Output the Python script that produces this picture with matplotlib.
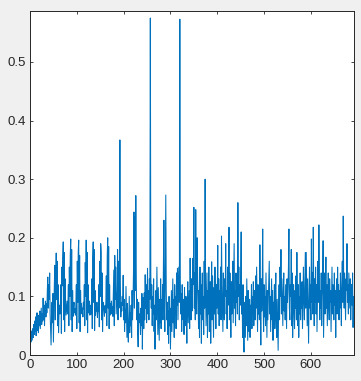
import numpy as np
import matplotlib
matplotlib.use("Agg")
import matplotlib.pyplot as plt

# valores leidos a ojo de la figura (una muestra por indice)
signal = [
    .012, .030, .022, .041, .025, .038, .045, .030, .052, .035,
    .058, .040, .065, .033, .048, .072, .042, .060, .038, .068,
    .050, .075, .045, .062, .080, .052, .070, .058, .097, .060,
    .085, .050, .078, .092, .065, .088, .072, .110, .133, .080,
    .120, .095, .140, .070, .045, .017, .060, .090, .055, .105,
    .022, .075, .120, .153, .060, .130, .174, .095, .160, .050,
    .120, .038, .072, .085, .070, .090, .120, .037, .150, .118,
    .165, .193, .060, .175, .040, .130, .088, .068, .080, .092,
    .070, .085, .120, .050, .150, .100, .170, .198, .060, .180,
    .040, .110, .066, .082, .090, .072, .079, .068, .086, .120,
    .045, .160, .090, .175, .196, .055, .170, .040, .110, .070,
    .088, .074, .080, .065, .090, .078, .120, .050, .158, .100,
    .196, .060, .175, .038, .120, .072, .080, .092, .068, .078,
    .085, .070, .130, .045, .165, .193, .090, .180, .042, .110,
    .068, .086, .075, .090, .064, .080, .074, .120, .048, .160,
    .100, .190, .175, .060, .140, .040, .090, .088, .076, .066,
    .084, .072, .090, .135, .050, .170, .200, .080, .185, .045,
    .120, .068, .088, .075, .092, .070, .082, .066, .110, .145,
    .050, .170, .095, .150, .070, .088, .110, .180, .060, .160,
    .080, .140, .367, .120, .065, .090, .075, .100, .085, .136,
    .060, .095, .040, .078, .055, .117, .070, .030, .088, .045,
    .022, .065, .100, .038, .072, .050, .085, .030, .110, .060,
    .090, .140, .244, .080, .235, .110, .272, .130, .060, .095,
    .040, .014, .090, .055, .070, .060, .035, .080, .050, .105,
    .010, .075, .098, .045, .106, .060, .137, .080, .120, .055,
    .090, .148, .070, .110, .060, .130, .095, .575, .140, .080,
    .120, .050, .100, .070, .130, .040, .085, .010, .075, .110,
    .060, .150, .090, .035, .115, .070, .025, .095, .055, .130,
    .045, .094, .070, .120, .060, .160, .230, .085, .040, .150,
    .273, .110, .060, .090, .035, .075, .020, .100, .050, .080,
    .010, .065, .110, .040, .085, .130, .055, .095, .030, .120,
    .070, .100, .045, .140, .085, .148, .060, .110, .150, .090,
    .573, .130, .070, .105, .040, .120, .080, .060, .095, .035,
    .115, .070, .050, .100, .065, .020, .090, .125, .055, .080,
    .110, .045, .165, .090, .060, .130, .075, .100, .165, .120,
    .252, .080, .140, .060, .248, .100, .070, .200, .130, .095,
    .045, .110, .030, .150, .070, .120, .020, .090, .140, .060,
    .100, .035, .160, .080, .300, .120, .050, .095, .140, .030,
    .110, .070, .150, .040, .090, .125, .020, .100, .159, .060,
    .135, .080, .030, .115, .070, .150, .090, .045, .120, .080,
    .100, .187, .070, .130, .050, .110, .085, .150, .060, .203,
    .120, .075, .040, .140, .090, .060, .130, .100, .190, .070,
    .110, .045, .150, .085, .120, .218, .060, .140, .095, .030,
    .125, .070, .100, .160, .055, .130, .190, .080, .110, .050,
    .140, .090, .120, .070, .260, .100, .150, .060, .120, .085,
    .140, .210, .070, .110, .030, .120, .045, .005, .090, .060,
    .030, .100, .050, .130, .080, .025, .110, .065, .040, .095,
    .030, .085, .060, .120, .045, .100, .070, .125, .050, .090,
    .110, .060, .135, .080, .150, .095, .040, .120, .070, .105,
    .060, .188, .090, .017, .130, .075, .110, .215, .080, .040,
    .120, .065, .100, .050, .140, .080, .030, .110, .060, .095,
    .125, .160, .070, .100, .040, .085, .130, .060, .110, .025,
    .090, .070, .120, .045, .100, .140, .065, .030, .095, .055,
    .008, .080, .120, .060, .150, .100, .180, .070, .130, .090,
    .050, .110, .140, .075, .100, .060, .120, .085, .045, .130,
    .090, .110, .150, .215, .080, .060, .120, .100, .180, .050,
    .140, .030, .090, .120, .070, .045, .110, .080, .135, .060,
    .175, .090, .050, .120, .030, .100, .070, .140, .060, .110,
    .080, .125, .045, .100, .150, .090, .060, .120, .175, .080,
    .175, .110, .050, .130, .070, .020, .095, .150, .080, .120,
    .060, .198, .090, .140, .070, .218, .110, .050, .130, .090,
    .150, .070, .120, .040, .100, .160, .090, .222, .130, .060,
    .110, .080, .140, .050, .100, .120, .195, .030, .090, .140,
    .070, .110, .167, .080, .120, .050, .100, .140, .085, .060,
    .130, .090, .110, .040, .100, .150, .070, .120, .095, .060,
    .140, .085, .110, .030, .100, .130, .070, .150, .090, .120,
    .060, .110, .080, .140, .100, .050, .120, .160, .090, .237,
    .120, .080, .140, .100, .060, .130, .110, .190, .090, .120,
    .070, .140, .110, .080, .130, .060, .100, .120, .085, .140,
    .047, .100, .090,
]
xticks = [0, 100, 200, 300, 400, 500, 600]
yticks = [0, 0.1, 0.2, 0.3, 0.4, 0.5]
yticklabels = ["0", "0.1", "0.2", "0.3", "0.4", "0.5"]

plt.rcParams['font.family'] = ['Liberation Sans', 'DejaVu Sans']

fig = plt.figure(figsize=(3.61, 3.81), dpi=100, facecolor='#f0f0f0')
ax = fig.add_axes([30/361, 1 - 355/381, 324/361, 344/381])

x = np.arange(len(signal))
ax.plot(x, signal, color='#0072bd', lw=0.75)

ax.set_xlim(0, len(signal) - 1)
ax.set_ylim(0, 0.587)
ax.set_xticks(xticks)
ax.set_yticks(yticks)
ax.set_yticklabels(yticklabels)
ax.tick_params(direction='in', length=2.5, width=0.6, top=True, right=True,
               labelsize=9.5, colors='#262626', pad=3)
for s in ax.spines.values():
    s.set_color('#262626')
    s.set_linewidth(0.7)

fig.savefig('out.png', dpi=100, facecolor=fig.get_facecolor())
